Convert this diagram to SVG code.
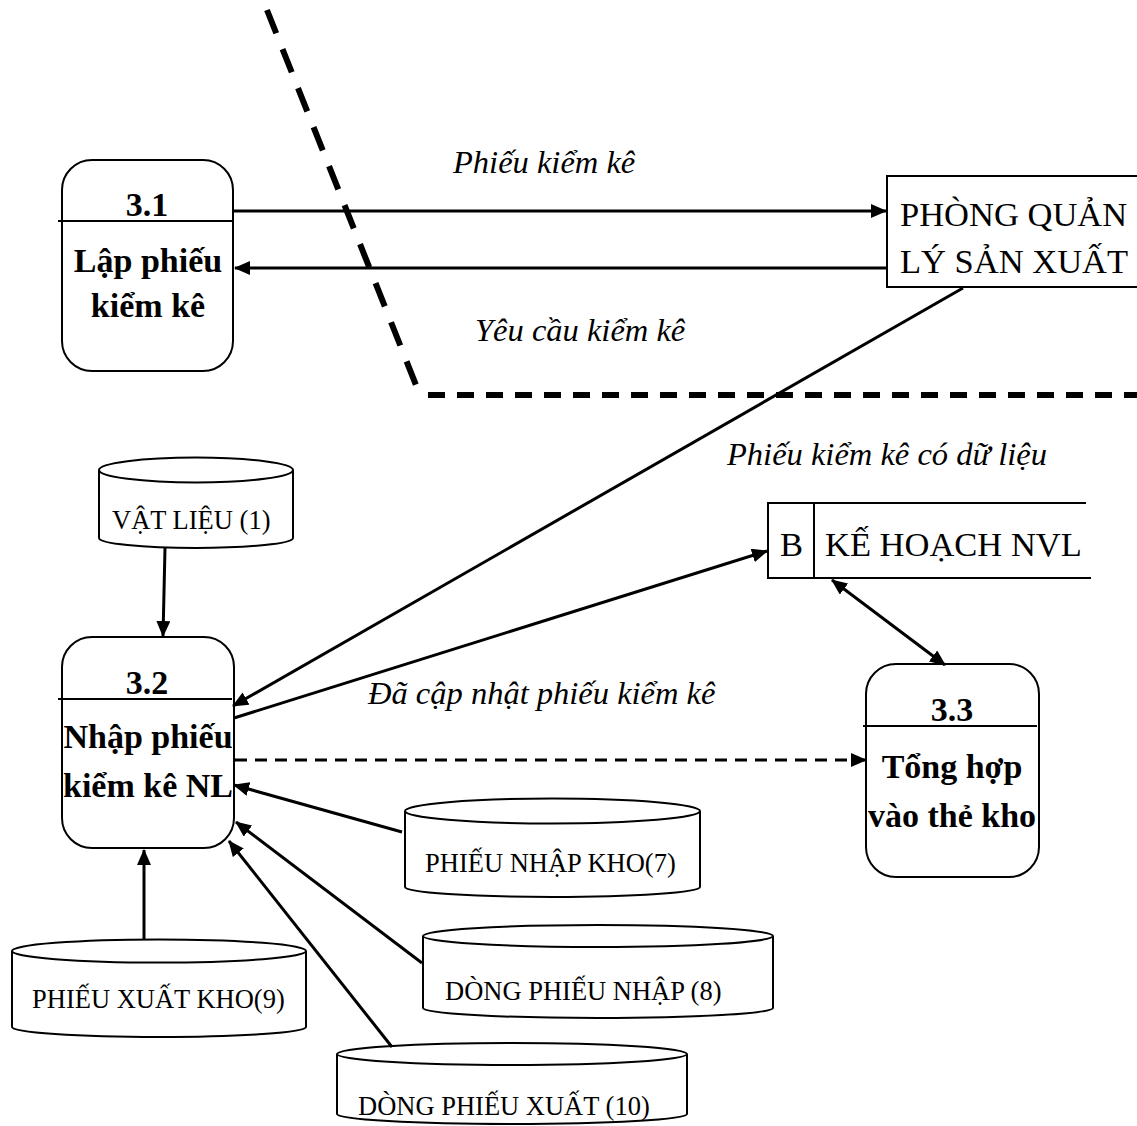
<svg xmlns="http://www.w3.org/2000/svg" width="1137" height="1126" viewBox="0 0 1137 1126">
  <style>
    .shape { fill: #fff; stroke: #000; stroke-width: 2; }
    .open { fill: none; stroke: #000; stroke-width: 2; }
    .flow { fill: none; stroke: #000; stroke-width: 3; }
    .dash { stroke-dasharray: 12 8; }
    .bound { fill: none; stroke: #000; stroke-width: 6; }
    .pid { font-family: "Liberation Serif", "Times New Roman", serif; font-weight: bold; font-size: 34px; text-anchor: middle; }
    .ptxt { font-family: "Liberation Serif", "Times New Roman", serif; font-weight: bold; font-size: 34px; text-anchor: middle; }
    .ent { font-family: "Liberation Serif", "Times New Roman", serif; font-size: 34.5px; }
    .store { font-family: "Liberation Serif", "Times New Roman", serif; font-size: 26.5px; }
    .lbl { font-family: "Liberation Serif", "Times New Roman", serif; font-style: italic; font-size: 32.5px; }
  </style>
  <defs>
    <marker id="arr" markerUnits="userSpaceOnUse" markerWidth="16" markerHeight="14" refX="15" refY="7" orient="auto-start-reverse">
      <path d="M0,0 L16,7 L0,14 Z" fill="#000"/>
    </marker>
  </defs>

  <!-- system boundary -->
  <g id="boundary">
    <line class="bound" x1="267" y1="10" x2="416" y2="385" stroke-dasharray="25 17"/>
    <line class="bound" x1="428" y1="395" x2="1137" y2="395" stroke-dasharray="17 12"/>
  </g>

  <!-- process 3.1 -->
  <g id="p31">
    <rect class="shape" x="62" y="160" width="171" height="211" rx="30" ry="30"/>
    <line class="open" x1="58" y1="221" x2="233" y2="221"/>
    <text class="pid" x="147" y="216">3.1</text>
    <text class="ptxt" x="148" y="272">Lập phiếu</text>
    <text class="ptxt" x="148" y="317">kiểm kê</text>
  </g>

  <!-- external entity -->
  <g id="pqlsx">
    <path class="shape" d="M1140,176 L887,176 L887,287 L1140,287"/>
    <text class="ent" x="900" y="226">PHÒNG QUẢN</text>
    <text class="ent" x="900" y="273">LÝ SẢN XUẤT</text>
  </g>

  <!-- data store B -->
  <g id="storeB">
    <path class="open" d="M1086,503 L768,503 L768,578 L1091,578 M814,503 L814,578"/>
    <text class="ent" x="780" y="556">B</text>
    <text class="ent" x="825" y="556">KẾ HOẠCH NVL</text>
  </g>

  <!-- process 3.2 -->
  <g id="p32">
    <rect class="shape" x="62" y="637" width="172" height="211" rx="30" ry="30"/>
    <line class="open" x1="58" y1="699" x2="232" y2="699"/>
    <text class="pid" x="147" y="694">3.2</text>
    <text class="ptxt" x="148" y="748">Nhập phiếu</text>
    <text class="ptxt" x="148" y="797">kiểm kê NL</text>
  </g>

  <!-- process 3.3 -->
  <g id="p33">
    <rect class="shape" x="866" y="664" width="173" height="213" rx="30" ry="30"/>
    <line class="open" x1="863" y1="726" x2="1037" y2="726"/>
    <text class="pid" x="952" y="721">3.3</text>
    <text class="ptxt" x="952" y="778">Tổng hợp</text>
    <text class="ptxt" x="952" y="827">vào thẻ kho</text>
  </g>

  <!-- cylinder stores -->
  <g id="vatlieu">
    <path class="shape" d="M99,470 A97,12.5 0 0 1 293,470 L293,538 A97,10 0 0 1 99,538 Z"/>
    <path class="open" d="M99,470 A97,12.5 0 0 0 293,470"/>
    <text class="store" x="112" y="529">VẬT LIỆU (1)</text>
  </g>

  <g id="pnk">
    <path class="shape" d="M405,811 A147.5,12.5 0 0 1 700,811 L700,887 A147.5,10 0 0 1 405,887 Z"/>
    <path class="open" d="M405,811 A147.5,12.5 0 0 0 700,811"/>
    <text class="store" x="425" y="872">PHIẾU NHẬP KHO(7)</text>
  </g>

  <g id="dpn">
    <path class="shape" d="M423,936 A175,11 0 0 1 773,936 L773,1008 A175,10 0 0 1 423,1008 Z"/>
    <path class="open" d="M423,936 A175,11 0 0 0 773,936"/>
    <text class="store" x="445" y="1000">DÒNG PHIẾU NHẬP (8)</text>
  </g>

  <g id="pxk">
    <path class="shape" d="M12,951 A147,11.5 0 0 1 306,951 L306,1027 A147,10 0 0 1 12,1027 Z"/>
    <path class="open" d="M12,951 A147,11.5 0 0 0 306,951"/>
    <text class="store" x="32" y="1008">PHIẾU XUẤT KHO(9)</text>
  </g>

  <g id="dpx">
    <path class="shape" d="M337,1054 A175,11 0 0 1 687,1054 L687,1114 A175,10 0 0 1 337,1114 Z"/>
    <path class="open" d="M337,1054 A175,11 0 0 0 687,1054"/>
    <text class="store" x="358" y="1115">DÒNG PHIẾU XUẤT (10)</text>
  </g>

  <!-- data flows -->
  <g id="flows">
    <line class="flow" x1="234" y1="211" x2="886" y2="211" marker-end="url(#arr)"/>
    <line class="flow" x1="887" y1="268" x2="235" y2="268" marker-end="url(#arr)"/>
    <line class="flow" x1="963" y1="288" x2="233" y2="706" marker-end="url(#arr)"/>
    <line class="flow" x1="234" y1="718" x2="767" y2="551" marker-end="url(#arr)"/>
    <line class="flow" x1="832" y1="580" x2="945" y2="665" marker-start="url(#arr)" marker-end="url(#arr)"/>
    <line class="flow dash" x1="235" y1="760" x2="866" y2="760" marker-end="url(#arr)"/>
    <line class="flow" x1="165" y1="548" x2="163" y2="636" marker-end="url(#arr)"/>
    <line class="flow" x1="402" y1="832" x2="234" y2="785" marker-end="url(#arr)"/>
    <line class="flow" x1="422" y1="963" x2="236" y2="822" marker-end="url(#arr)"/>
    <line class="flow" x1="392" y1="1047" x2="229" y2="841" marker-end="url(#arr)"/>
    <line class="flow" x1="144" y1="940" x2="144" y2="850" marker-end="url(#arr)"/>
  </g>

  <!-- flow labels -->
  <g id="labels">
    <text class="lbl" x="453" y="173">Phiếu kiểm kê</text>
    <text class="lbl" x="475" y="341">Yêu cầu kiểm kê</text>
    <text class="lbl" x="727" y="465">Phiếu kiểm kê có dữ liệu</text>
    <text class="lbl" x="368" y="704">Đã cập nhật phiếu kiểm kê</text>
  </g>
</svg>
